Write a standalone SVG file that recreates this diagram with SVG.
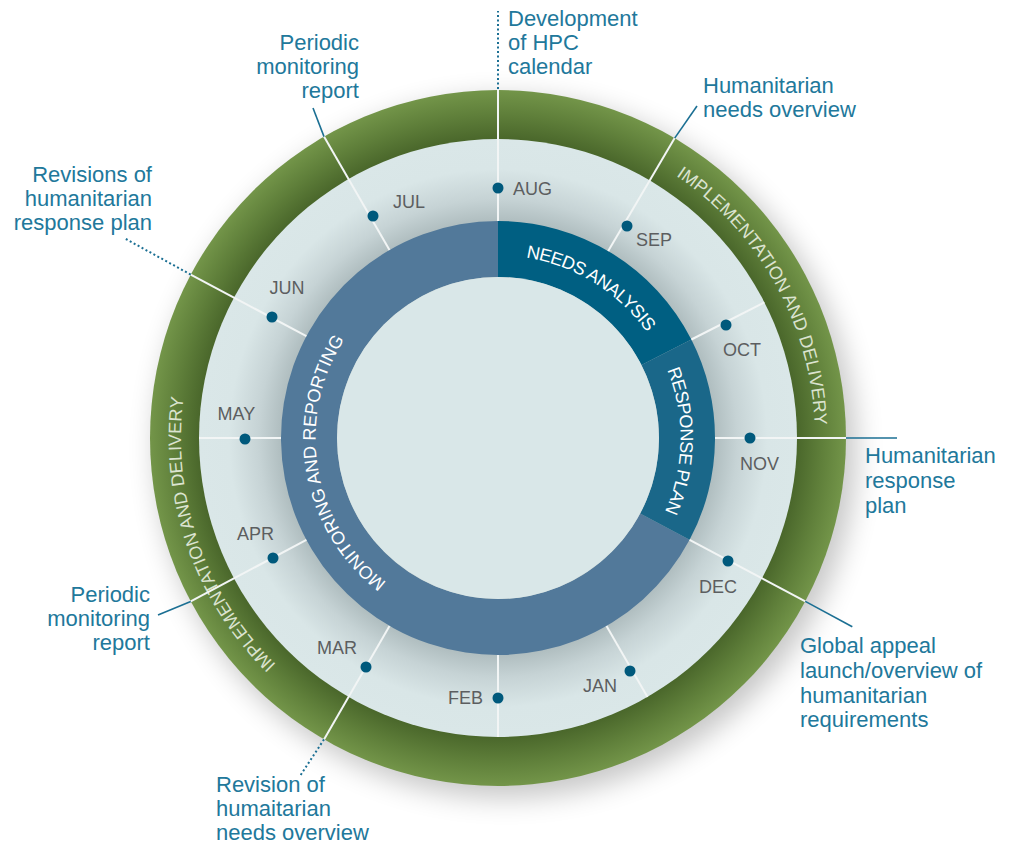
<svg xmlns="http://www.w3.org/2000/svg" xmlns:xlink="http://www.w3.org/1999/xlink" width="1009" height="844" viewBox="0 0 1009 844">
<defs>
<style>
.callout{font-family:"Liberation Sans",Arial,sans-serif;font-size:22px;fill:#21789b}
.month{font-family:"Liberation Sans",Arial,sans-serif;font-size:18px;fill:#5c5e60}
.ring{font-family:"Liberation Sans",Arial,sans-serif;font-size:18px}
.green-t{fill:#dbe3d0}
.blue-t{fill:#ffffff}
.div{stroke:#f2f5f5;stroke-width:2;fill:none}
.lead{stroke:#1b6f93;stroke-width:1.6;fill:none}
.dotted{stroke:#1b6f93;stroke-width:2;stroke-dasharray:2 2.5;fill:none}
.dot{fill:#00597c}
</style>
<radialGradient id="gGreen" gradientUnits="userSpaceOnUse" cx="498" cy="438" r="348">
<stop offset="0.859" stop-color="#4a672b"/>
<stop offset="0.93" stop-color="#5f7f3a"/>
<stop offset="1" stop-color="#739549"/>
</radialGradient>
<radialGradient id="gLight" gradientUnits="userSpaceOnUse" cx="498" cy="438" r="299">
<stop offset="0.72" stop-color="#aebcbe"/>
<stop offset="0.8" stop-color="#c6d3d5"/>
<stop offset="0.9" stop-color="#d9e6e7"/>
<stop offset="1" stop-color="#dae7e8"/>
</radialGradient>
<filter id="shadow" x="-20%" y="-20%" width="140%" height="140%">
<feGaussianBlur stdDeviation="14"/>
</filter>
<path id="pGreen" d="M498,121 A317,317 0 1 1 498,755 A317,317 0 1 1 498,121"/>
<path id="pBlue" d="M498,255.5 A182.5,182.5 0 1 1 498,620.5 A182.5,182.5 0 1 1 498,255.5"/>
</defs>
<rect width="1009" height="844" fill="#ffffff"/>

<g id="wheel">
<circle cx="506" cy="448" r="350" fill="#000" opacity="0.22" filter="url(#shadow)"/>
<circle id="ring-green" cx="498" cy="438" r="348" fill="url(#gGreen)"/>
<circle id="ring-light" cx="498" cy="438" r="299" fill="url(#gLight)"/>
<path id="seg-monitoring" d="M689.6,539.87 A217,217 0 1 1 498,221 L498,277 A161,161 0 1 0 640.15,513.58 Z" fill="#52799a"/>
<path id="seg-needs" d="M498,221 A217,217 0 0 1 691.35,339.48 L641.45,364.91 A161,161 0 0 0 498,277 Z" fill="#005f82"/>
<path id="seg-response" d="M691.35,339.48 A217,217 0 0 1 689.6,539.87 L640.15,513.58 A161,161 0 0 0 641.45,364.91 Z" fill="#1a6789"/>
<circle id="center" cx="498" cy="438" r="161" fill="#d9e7e8"/>
</g>

<g id="ring-labels">
<text class="ring green-t"><textPath xlink:href="#pGreen" href="#pGreen" startOffset="189" textLength="296" lengthAdjust="spacing">IMPLEMENTATION AND DELIVERY</textPath></text>
<text class="ring green-t"><textPath xlink:href="#pGreen" href="#pGreen" startOffset="1241" textLength="293" lengthAdjust="spacing">IMPLEMENTATION AND DELIVERY</textPath></text>
<text class="ring blue-t"><textPath xlink:href="#pBlue" href="#pBlue" startOffset="28" textLength="146" lengthAdjust="spacing">NEEDS ANALYSIS</textPath></text>
<text class="ring blue-t"><textPath xlink:href="#pBlue" href="#pBlue" startOffset="216.6" textLength="146" lengthAdjust="spacing">RESPONSE PLAN</textPath></text>
<text class="ring blue-t"><textPath xlink:href="#pBlue" href="#pBlue" startOffset="693" textLength="271" lengthAdjust="spacing">MONITORING AND REPORTING</textPath></text>
</g>

<g id="connectors">
<line class="div" x1="498" y1="221" x2="498" y2="90"/>
<line class="div" x1="608.2" y1="251" x2="674.7" y2="138.1"/>
<line class="div" x1="691.4" y1="339.5" x2="764.4" y2="302.3"/>
<line class="div" x1="715" y1="438" x2="846" y2="438"/>
<line class="div" x1="689.6" y1="539.9" x2="805.3" y2="601.4"/>
<line class="div" x1="606.5" y1="625.9" x2="647.5" y2="696.9"/>
<line class="div" x1="498" y1="655" x2="498" y2="737"/>
<line class="div" x1="389.5" y1="625.9" x2="324" y2="739.4"/>
<line class="div" x1="306.4" y1="539.9" x2="190.7" y2="601.4"/>
<line class="div" x1="281" y1="438" x2="199" y2="438"/>
<line class="div" x1="306.4" y1="336.1" x2="190.7" y2="274.6"/>
<line class="div" x1="389.5" y1="250.1" x2="324" y2="136.6"/>
<line class="dotted" x1="498" y1="89" x2="498" y2="11"/>
<line class="lead" x1="674.7" y1="138.1" x2="697" y2="106"/>
<line class="lead" x1="846" y1="438" x2="897" y2="438"/>
<line class="lead" x1="805.3" y1="601.4" x2="852.3" y2="626.7"/>
<line class="dotted" x1="324" y1="739.4" x2="300" y2="776"/>
<line class="lead" x1="190.7" y1="601.4" x2="158" y2="615"/>
<line class="dotted" x1="190.7" y1="274.6" x2="124" y2="238"/>
<line class="lead" x1="324" y1="136.6" x2="313" y2="108"/>
</g>

<g id="months">
<g id="m-aug"><circle class="dot" cx="498" cy="188" r="5.5"/><text class="month" x="513" y="195">AUG</text></g>
<g id="m-sep"><circle class="dot" cx="627" cy="226" r="5.5"/><text class="month" x="636" y="246">SEP</text></g>
<g id="m-oct"><circle class="dot" cx="726" cy="325" r="5.5"/><text class="month" x="723" y="356">OCT</text></g>
<g id="m-nov"><circle class="dot" cx="750" cy="438" r="5.5"/><text class="month" x="740" y="470">NOV</text></g>
<g id="m-dec"><circle class="dot" cx="728" cy="561" r="5.5"/><text class="month" x="699" y="593">DEC</text></g>
<g id="m-jan"><circle class="dot" cx="630" cy="671" r="5.5"/><text class="month" x="583" y="692">JAN</text></g>
<g id="m-feb"><circle class="dot" cx="498" cy="698" r="5.5"/><text class="month" x="448" y="704">FEB</text></g>
<g id="m-mar"><circle class="dot" cx="366" cy="667" r="5.5"/><text class="month" x="317" y="654">MAR</text></g>
<g id="m-apr"><circle class="dot" cx="273" cy="558" r="5.5"/><text class="month" x="237" y="540">APR</text></g>
<g id="m-may"><circle class="dot" cx="245" cy="439" r="5.5"/><text class="month" x="217.5" y="420">MAY</text></g>
<g id="m-jun"><circle class="dot" cx="272" cy="317" r="5.5"/><text class="month" x="269.5" y="294">JUN</text></g>
<g id="m-jul"><circle class="dot" cx="373" cy="216" r="5.5"/><text class="month" x="393" y="208">JUL</text></g>
</g>

<g id="callouts">
<g id="c-calendar"><text class="callout" x="508"><tspan x="508" y="26">Development</tspan><tspan x="508" y="50">of HPC</tspan><tspan x="508" y="74">calendar</tspan></text></g>
<g id="c-hno"><text class="callout" x="703"><tspan x="703" y="93">Humanitarian</tspan><tspan x="703" y="117">needs overview</tspan></text></g>
<g id="c-hrp"><text class="callout" x="865"><tspan x="865" y="463">Humanitarian</tspan><tspan x="865" y="488">response</tspan><tspan x="865" y="513">plan</tspan></text></g>
<g id="c-global"><text class="callout" x="800"><tspan x="800" y="653">Global appeal</tspan><tspan x="800" y="678">launch/overview of</tspan><tspan x="800" y="703">humanitarian</tspan><tspan x="800" y="727">requirements</tspan></text></g>
<g id="c-revision-hno"><text class="callout" x="216"><tspan x="216" y="792">Revision of</tspan><tspan x="216" y="816">humaitarian</tspan><tspan x="216" y="840">needs overview</tspan></text></g>
<g id="c-pmr-apr"><text class="callout" text-anchor="end"><tspan x="150" y="602">Periodic</tspan><tspan x="150" y="626">monitoring</tspan><tspan x="150" y="650">report</tspan></text></g>
<g id="c-revisions-hrp"><text class="callout" text-anchor="end"><tspan x="152" y="182">Revisions of</tspan><tspan x="152" y="206">humanitarian</tspan><tspan x="152" y="230">response plan</tspan></text></g>
<g id="c-pmr-jul"><text class="callout" text-anchor="end"><tspan x="359" y="50">Periodic</tspan><tspan x="359" y="74">monitoring</tspan><tspan x="359" y="98">report</tspan></text></g>
</g>
</svg>
